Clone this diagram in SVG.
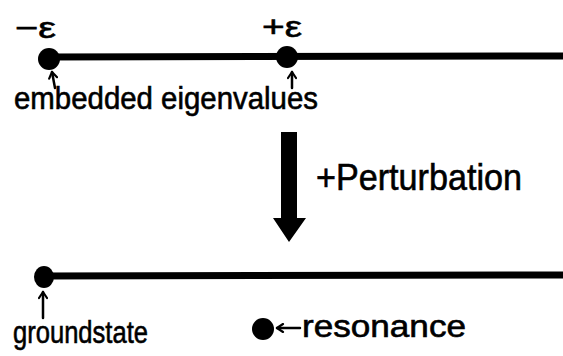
<svg xmlns="http://www.w3.org/2000/svg" width="563" height="356" viewBox="0 0 563 356">
  <defs>
    <marker id="small" viewBox="0 0 10 10" refX="8" refY="5" markerWidth="10" markerHeight="10" markerUnits="userSpaceOnUse" orient="auto">
      <path d="M2,1 L8,5 L2,9" fill="none" stroke="#000" stroke-width="2.2" stroke-linecap="round" stroke-linejoin="round"/>
    </marker>
  </defs>
  <style>
    .lbl { font-family: "Liberation Sans", "DejaVu Sans", sans-serif; fill: #000; stroke: #000; stroke-width: 0.6; }
    .axis { stroke: #000; stroke-width: 7; stroke-linecap: round; fill: none; }
    .dot { fill: #000; }
    .thin { stroke: #000; stroke-width: 2.5; fill: none; stroke-linecap: round; }
  </style>
  <rect width="563" height="356" fill="#fff"/>

  <g id="top-axis">
    <line class="axis" x1="50" y1="57" x2="566" y2="56"/>
  </g>
  <g id="minus-eps">
    <circle class="dot" cx="49" cy="59" r="11"/>
    <text class="lbl" x="15" y="38" font-size="30" textLength="41" lengthAdjust="spacingAndGlyphs">−ε</text>
  </g>
  <g id="plus-eps">
    <circle class="dot" cx="287" cy="57" r="11"/>
    <text class="lbl" x="262" y="37" font-size="30" textLength="40" lengthAdjust="spacingAndGlyphs">+ε</text>
  </g>
  <g id="embedded-label">
    <text class="lbl" x="14" y="109" font-size="31" textLength="304" lengthAdjust="spacingAndGlyphs">embedded eigenvalues</text>
  </g>

  <g id="perturbation-label">
    <text class="lbl" x="316" y="190" font-size="36" textLength="206" lengthAdjust="spacingAndGlyphs">+Perturbation</text>
  </g>

  <g id="bottom-axis">
    <line class="axis" x1="44" y1="276" x2="566" y2="275"/>
    <ellipse class="dot" cx="44" cy="277" rx="10" ry="11"/>
  </g>
  <g id="groundstate-label">
    <text class="lbl" x="13" y="343" font-size="31" textLength="135" lengthAdjust="spacingAndGlyphs">groundstate</text>
  </g>
  <g id="resonance">
    <circle class="dot" cx="263" cy="329" r="11"/>
    <text class="lbl" x="302" y="337" font-size="31" textLength="164" lengthAdjust="spacingAndGlyphs">resonance</text>
  </g>

  <g id="connectors">
    <path class="thin" d="M55,88 L52,72" marker-end="url(#small)"/>
    <path class="thin" d="M292,88 L292,72" marker-end="url(#small)"/>
    <path class="thin" d="M43,318 L43,292" marker-end="url(#small)"/>
    <path class="thin" d="M300,328 L277,328" marker-end="url(#small)"/>
    <path d="M281,132 L297,132 L297,218 L306,218 L289,242 L273,218 L281,218 Z" fill="#000"/>
  </g>
</svg>
